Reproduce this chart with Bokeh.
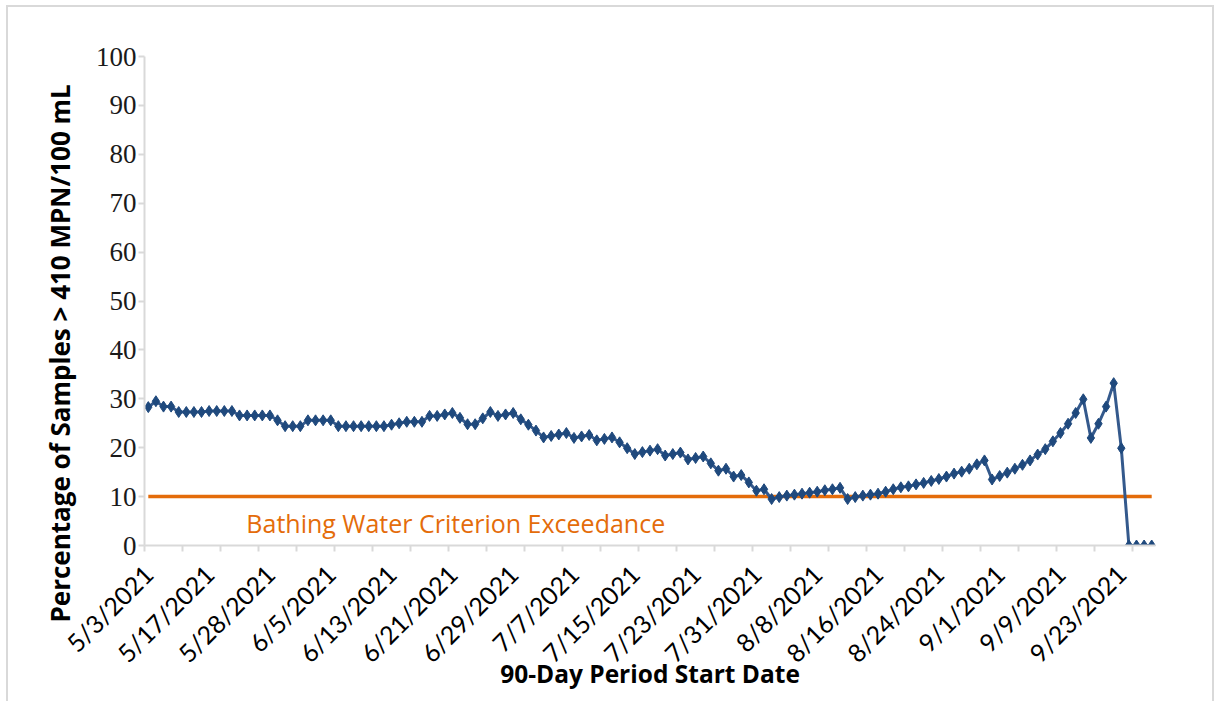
import math
from bokeh.plotting import figure
from bokeh.models import FixedTicker, Range1d, Label, Title, ColumnDataSource
from bokeh.embed import file_html
from bokeh.resources import INLINE

# ---- data ----
tick_labels = ["5/3/2021", "5/17/2021", "5/28/2021", "6/5/2021", "6/13/2021",
               "6/21/2021", "6/29/2021", "7/7/2021", "7/15/2021", "7/23/2021",
               "7/31/2021", "8/8/2021", "8/16/2021", "8/24/2021", "9/1/2021",
               "9/9/2021", "9/23/2021"]
label_every = 8   # one date label every 8 categories
tick_every = 5    # one tick mark every 5 categories

pct_exceed = [
    28.3, 29.5, 28.4, 28.4, 27.3, 27.3, 27.3, 27.3, 27.5, 27.5, 27.5, 27.5,
    26.6, 26.6, 26.6, 26.6, 26.6, 25.6, 24.4, 24.4, 24.4, 25.6, 25.6, 25.6,
    25.6, 24.4, 24.4, 24.4, 24.4, 24.4, 24.4, 24.4,
    24.7, 25.0, 25.3, 25.3, 25.3, 26.5, 26.5, 26.8, 27.1, 26.1, 24.8, 24.8,
    26.0, 27.3, 26.5, 26.8, 27.1, 25.8, 24.7, 23.5, 22.1, 22.4, 22.7, 23.0,
    22.0, 22.3, 22.6, 21.5, 21.8, 22.1, 21.1, 19.9, 18.7,
    19.1, 19.4, 19.7, 18.4, 18.7, 19.0, 17.6, 17.9, 18.2, 16.8, 15.3, 15.7,
    14.1, 14.4, 12.9, 11.2, 11.5, 9.5, 9.9, 10.2, 10.4, 10.6, 10.8, 11.0,
    11.3, 11.5, 11.8, 9.5, 9.9, 10.2, 10.4, 10.6, 11.0,
    11.5, 11.9, 12.1, 12.5, 12.8, 13.2, 13.6, 14.1, 14.7, 15.1, 15.7, 16.6,
    17.4, 13.5, 14.2, 14.9, 15.7, 16.5, 17.4, 18.6, 19.7, 21.3, 23.0, 24.9,
    27.1, 29.9, 22.0, 24.9, 28.4, 33.2, 19.9, 0, 0, 0, 0,
]
criterion = 10
criterion_label = "Bathing Water Criterion Exceedance"
y_title = "Percentage of Samples > 410 MPN/100 mL"
x_title = "90-Day Period Start Date"
y_ticks = list(range(0, 101, 10))

n = len(pct_exceed)
idx = list(range(n))
src = ColumnDataSource(dict(x=idx, y=pct_exceed, c=[criterion] * n))

p = figure(width=1208, height=696, output_backend="svg", toolbar_location=None,
           x_range=Range1d(-0.5, n - 0.5), y_range=Range1d(0, 100),
           min_border_left=136, min_border_right=61, min_border_top=49,
           min_border_bottom=158)
p.styles = {"border-top": "2px solid #D9D9D9", "border-left": "2px solid #D9D9D9",
            "border-right": "2px solid #D9D9D9",
            "margin-left": "6px", "margin-top": "5px"}
p.outline_line_color = None
p.xgrid.visible = False
p.ygrid.visible = False
p.background_fill_color = "white"

# criterion line
p.line("x", "c", source=src, line_color="#E46C0A", line_width=3.5)

# series
p.line("x", "y", source=src, line_color="#34598C", line_width=3)
p.scatter("x", "y", source=src, marker="diamond", size=11,
          fill_color="#1F497D", line_color="#1F497D")

p.add_layout(Label(x=12.9, y=4.7, text=criterion_label, text_color="#E46C0A",
                   text_font="Open Sans", text_font_size="25px",
                   text_baseline="middle", text_align="left"))

# y-axis title (starts below the frame bottom, as in the reference)
p.add_layout(Title(text=y_title, align="left", offset=-77, standoff=29,
                   text_font="Open Sans", text_font_style="bold",
                   text_font_size="26px", text_color="#000000"), "left")

# x axis
lab_pos = [i * label_every for i in range(len(tick_labels))]
minor = [k * tick_every - 0.5 for k in range(0, n // tick_every + 1)]
xa = p.xaxis[0]
xa.ticker = FixedTicker(ticks=lab_pos, minor_ticks=minor)
xa.major_label_overrides = {pos: lab for pos, lab in zip(lab_pos, tick_labels)}
xa.major_label_orientation = math.pi / 4
xa.major_tick_out = 0
xa.major_tick_in = 0
xa.minor_tick_out = 6
xa.minor_tick_in = 0
xa.minor_tick_line_color = "#D9D9D9"
xa.minor_tick_line_width = 2
xa.axis_line_color = "#D9D9D9"
xa.axis_line_width = 2
xa.major_label_text_font = "Lato"
xa.major_label_text_font_size = "25px"
xa.major_label_text_color = "#000000"
xa.major_label_standoff = 18
xa.axis_label = x_title
xa.axis_label_text_font = "Open Sans"
xa.axis_label_text_font_style = "bold"
xa.axis_label_text_font_size = "24.5px"
xa.axis_label_text_color = "#000000"
xa.axis_label_standoff = -24

# y axis
ya = p.yaxis[0]
ya.ticker = FixedTicker(ticks=y_ticks)
ya.minor_tick_out = 0
ya.minor_tick_in = 0
ya.major_tick_out = 6
ya.major_tick_in = 0
ya.major_tick_line_color = "#D9D9D9"
ya.major_tick_line_width = 2
ya.axis_line_color = "#D9D9D9"
ya.axis_line_width = 2
ya.major_label_text_font = "Liberation Serif"
ya.major_label_text_font_size = "27px"
ya.major_label_text_color = "#1a1a1a"
ya.major_label_standoff = 2

open("out.html", "w").write(file_html(p, INLINE))
